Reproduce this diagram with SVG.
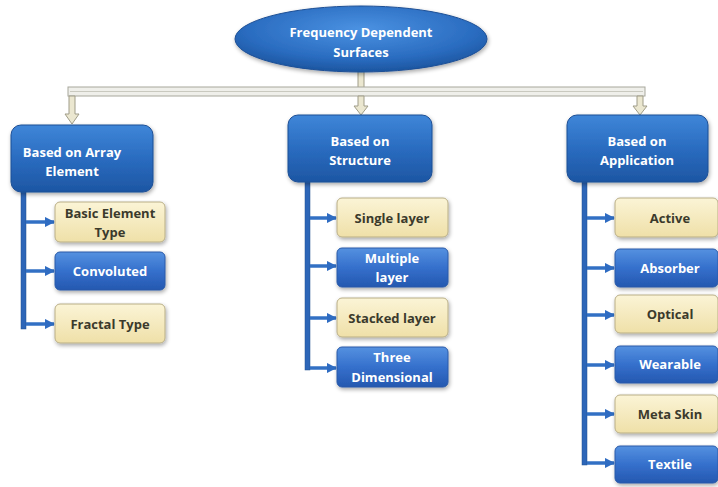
<svg xmlns="http://www.w3.org/2000/svg" width="718" height="487" viewBox="0 0 718 487">
  <defs>
    <linearGradient id="gHead" x1="0" y1="0" x2="0" y2="1">
      <stop offset="0" stop-color="#3f86d8"/>
      <stop offset="0.5" stop-color="#2a6cc0"/>
      <stop offset="1" stop-color="#1d56a3"/>
    </linearGradient>
    <linearGradient id="gBlue" x1="0" y1="0" x2="0" y2="1">
      <stop offset="0" stop-color="#5591e0"/>
      <stop offset="0.5" stop-color="#3570cc"/>
      <stop offset="1" stop-color="#2558b0"/>
    </linearGradient>
    <linearGradient id="gCream" x1="0" y1="0" x2="0" y2="1">
      <stop offset="0" stop-color="#fbf4d6"/>
      <stop offset="1" stop-color="#efe0a8"/>
    </linearGradient>
    <radialGradient id="gEll" cx="0.5" cy="0.35" r="0.65">
      <stop offset="0" stop-color="#4b92e2"/>
      <stop offset="0.7" stop-color="#2a6cc0"/>
      <stop offset="1" stop-color="#1c559f"/>
    </radialGradient>
    <filter id="shadow" x="-10%" y="-10%" width="125%" height="135%">
      <feGaussianBlur in="SourceAlpha" stdDeviation="2"/>
      <feOffset dx="1" dy="2" result="b"/>
      <feComponentTransfer><feFuncA type="linear" slope="0.35"/></feComponentTransfer>
      <feMerge><feMergeNode/><feMergeNode in="SourceGraphic"/></feMerge>
    </filter>
    <marker id="ah" viewBox="0 0 10 10" refX="9" refY="5" markerWidth="3" markerHeight="3" orient="auto">
      <path d="M0,0 L10,5 L0,10 z" fill="#2f6cc2"/>
    </marker>
  </defs>
  <style>
    text { font-family: "Open Sans", "Liberation Sans", sans-serif; font-weight: bold; font-size: 13px; text-anchor: middle; }
    .w { fill: #ffffff; }
    .d { fill: #3b3a2c; }
    .head { fill: url(#gHead); stroke: #1d4f95; stroke-width: 1; filter: url(#shadow); }
    .blue { fill: url(#gBlue); stroke: #2a5aa8; stroke-width: 1; filter: url(#shadow); }
    .cream { fill: url(#gCream); stroke: #b9ae86; stroke-width: 1; filter: url(#shadow); }
    .trunk { fill: #2d66b8; stroke: #20528f; stroke-width: 0.5; }
    .branch { stroke: #3270c4; stroke-width: 3.5; fill: none; marker-end: url(#ah); }
    .bar { fill: #efefea; stroke: #a7a79c; stroke-width: 1; }
    .darr { fill: #ebe7d0; stroke: #9f9c88; stroke-width: 1; }
  </style>

  <!-- connectors -->
  <g id="connectors">
    <!-- top distribution bar -->
    <path class="darr" d="M358,70 L364,70 L364,88 L358,88 z"/>
    <rect class="bar" x="68" y="87" width="577" height="9"/>
    <line x1="70" y1="91.5" x2="643" y2="91.5" stroke="#c9c9bf" stroke-width="1"/>
    <path class="darr" d="M69,96 L75,96 L75,114 L79,114 L72,124 L65,114 L69,114 z"/>
    <path class="darr" d="M358,96 L364,96 L364,106 L368,106 L361,115 L354,106 L358,106 z"/>
    <path class="darr" d="M637,96 L643,96 L643,106 L647,106 L640,115 L633,106 L637,106 z"/>

    <!-- trunks -->
    <rect class="trunk" x="21" y="190" width="5" height="139"/>
    <rect class="trunk" x="305" y="180" width="5" height="190"/>
    <rect class="trunk" x="582" y="180" width="5" height="285"/>

    <!-- branches: column 1 -->
    <line class="branch" x1="26" y1="222" x2="54" y2="222"/>
    <line class="branch" x1="26" y1="271" x2="54" y2="271"/>
    <line class="branch" x1="26" y1="324" x2="54" y2="324"/>
    <!-- branches: column 2 -->
    <line class="branch" x1="310" y1="218" x2="336" y2="218"/>
    <line class="branch" x1="310" y1="266" x2="336" y2="266"/>
    <line class="branch" x1="310" y1="318" x2="336" y2="318"/>
    <line class="branch" x1="310" y1="368" x2="336" y2="368"/>
    <!-- branches: column 3 -->
    <line class="branch" x1="587" y1="218" x2="614" y2="218"/>
    <line class="branch" x1="587" y1="268" x2="614" y2="268"/>
    <line class="branch" x1="587" y1="315" x2="614" y2="315"/>
    <line class="branch" x1="587" y1="365" x2="614" y2="365"/>
    <line class="branch" x1="587" y1="414" x2="614" y2="414"/>
    <line class="branch" x1="587" y1="463" x2="614" y2="463"/>
  </g>

  <!-- root -->
  <g id="root">
    <ellipse cx="361" cy="39" rx="126" ry="33" fill="url(#gEll)" stroke="#1d4f95" stroke-width="1" filter="url(#shadow)"/>
    <text class="w" x="361" y="37">Frequency Dependent</text>
    <text class="w" x="361" y="57">Surfaces</text>
  </g>

  <!-- category headers -->
  <g id="array-element">
    <rect class="head" x="11" y="125" width="142" height="67" rx="10"/>
    <text class="w" x="72" y="157">Based on Array</text>
    <text class="w" x="72" y="176">Element</text>
  </g>
  <g id="structure">
    <rect class="head" x="288" y="115" width="144" height="67" rx="10"/>
    <text class="w" x="360" y="146">Based on</text>
    <text class="w" x="360" y="165">Structure</text>
  </g>
  <g id="application">
    <rect class="head" x="567" y="115" width="141" height="67" rx="10"/>
    <text class="w" x="637" y="146">Based on</text>
    <text class="w" x="637" y="165">Application</text>
  </g>

  <!-- column 1 -->
  <g id="basic-element-type">
    <rect class="cream" x="55" y="202" width="110" height="40" rx="5"/>
    <text class="d" x="110" y="218">Basic Element</text>
    <text class="d" x="110" y="237">Type</text>
  </g>
  <g id="convoluted">
    <rect class="blue" x="55" y="252" width="110" height="38" rx="5"/>
    <text class="w" x="110" y="276">Convoluted</text>
  </g>
  <g id="fractal-type">
    <rect class="cream" x="55" y="304" width="110" height="39" rx="5"/>
    <text class="d" x="110" y="329">Fractal Type</text>
  </g>

  <!-- column 2 -->
  <g id="single-layer">
    <rect class="cream" x="337" y="198" width="111" height="39" rx="5"/>
    <text class="d" x="392" y="223">Single layer</text>
  </g>
  <g id="multiple-layer">
    <rect class="blue" x="337" y="248" width="111" height="39" rx="5"/>
    <text class="w" x="392" y="263">Multiple</text>
    <text class="w" x="392" y="282">layer</text>
  </g>
  <g id="stacked-layer">
    <rect class="cream" x="337" y="298" width="111" height="39" rx="5"/>
    <text class="d" x="392" y="323">Stacked layer</text>
  </g>
  <g id="three-dimensional">
    <rect class="blue" x="337" y="347" width="111" height="40" rx="5"/>
    <text class="w" x="392" y="362">Three</text>
    <text class="w" x="392" y="382">Dimensional</text>
  </g>

  <!-- column 3 -->
  <g id="active">
    <rect class="cream" x="615" y="198" width="103" height="39" rx="5"/>
    <text class="d" x="670" y="223">Active</text>
  </g>
  <g id="absorber">
    <rect class="blue" x="615" y="249" width="103" height="38" rx="5"/>
    <text class="w" x="670" y="273">Absorber</text>
  </g>
  <g id="optical">
    <rect class="cream" x="615" y="295" width="103" height="38" rx="5"/>
    <text class="d" x="670" y="319">Optical</text>
  </g>
  <g id="wearable">
    <rect class="blue" x="615" y="346" width="103" height="37" rx="5"/>
    <text class="w" x="670" y="369">Wearable</text>
  </g>
  <g id="meta-skin">
    <rect class="cream" x="615" y="395" width="103" height="38" rx="5"/>
    <text class="d" x="670" y="419">Meta Skin</text>
  </g>
  <g id="textile">
    <rect class="blue" x="615" y="446" width="103" height="37" rx="5"/>
    <text class="w" x="670" y="469">Textile</text>
  </g>
</svg>
